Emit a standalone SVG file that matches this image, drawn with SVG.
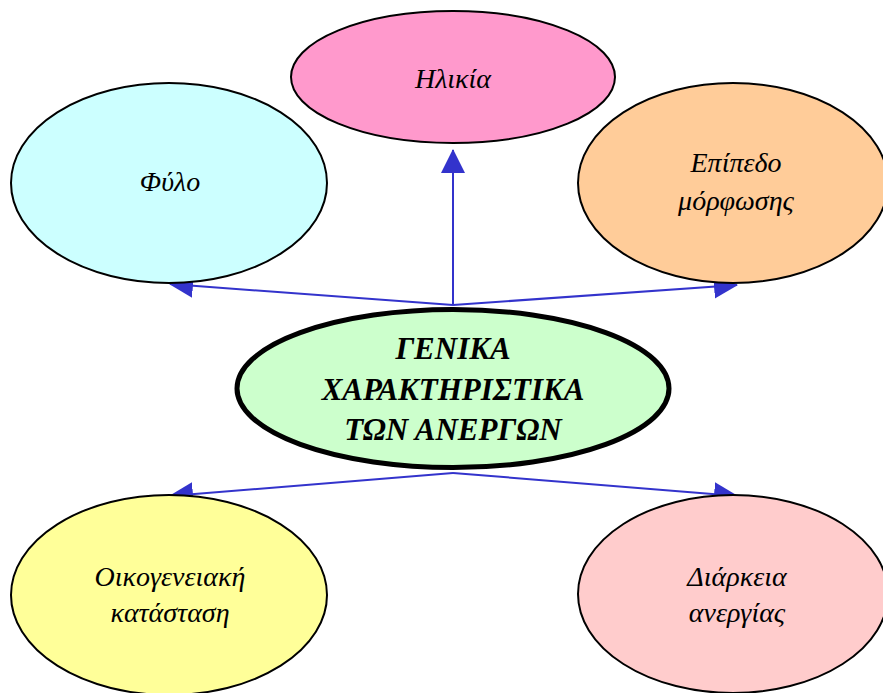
<svg xmlns="http://www.w3.org/2000/svg" width="883" height="693" viewBox="0 0 883 693">
<style>
.node{stroke:#000;stroke-width:2}
.lbl{font-family:"Liberation Serif","DejaVu Serif",serif;font-style:italic;font-size:28px;fill:#000;text-anchor:middle}
.big{font-family:"Liberation Serif","DejaVu Serif",serif;font-style:italic;font-weight:bold;font-size:31px;fill:#000;text-anchor:middle}
.conn{stroke:#3333CC;stroke-width:2;fill:none;marker-end:url(#ah)}
</style>
<defs>
<marker id="ah" markerUnits="userSpaceOnUse" markerWidth="24" markerHeight="24" viewBox="0 0 24 24" refX="23" refY="12" orient="auto">
<path d="M0,0 L24,12 L0,24 Z" fill="#3333CC"/>
</marker>
</defs>
<rect width="883" height="693" fill="#fff"/>
<g id="connectors">
<line class="conn" x1="453" y1="305" x2="453" y2="150"/>
<line class="conn" x1="453" y1="305" x2="170" y2="284"/>
<line class="conn" x1="453" y1="305" x2="737" y2="285"/>
<line class="conn" x1="453" y1="473" x2="170" y2="496"/>
<line class="conn" x1="453" y1="473" x2="737" y2="496"/>
</g>
<g id="node-ilikia">
<ellipse class="node" cx="453" cy="77" rx="162" ry="66" fill="#FF99CC"/>
<text class="lbl" x="453" y="88">Ηλικία</text>
</g>
<g id="node-fylo">
<ellipse class="node" cx="169" cy="183" rx="158" ry="100" fill="#CCFFFF"/>
<text class="lbl" x="170" y="191">Φύλο</text>
</g>
<g id="node-epipedo">
<ellipse class="node" cx="733" cy="183" rx="155" ry="100" fill="#FFCC99"/>
<text class="lbl" x="736" y="172">Επίπεδο</text>
<text class="lbl" x="736" y="210">μόρφωσης</text>
</g>
<g id="node-center">
<ellipse cx="453" cy="388.5" rx="216" ry="79" fill="#CCFFCC" stroke="#000" stroke-width="5"/>
<text class="big" x="453" y="359">ΓΕΝΙΚΑ</text>
<text class="big" x="453" y="400">ΧΑΡΑΚΤΗΡΙΣΤΙΚΑ</text>
<text class="big" x="453" y="440">ΤΩΝ ΑΝΕΡΓΩΝ</text>
</g>
<g id="node-oikogeneiaki">
<ellipse class="node" cx="169" cy="595" rx="158" ry="100" fill="#FFFF99"/>
<text class="lbl" x="170" y="586">Οικογενειακή</text>
<text class="lbl" x="170" y="622">κατάσταση</text>
</g>
<g id="node-diarkeia">
<ellipse class="node" cx="733" cy="594" rx="155" ry="99" fill="#FFCCCC"/>
<text class="lbl" x="737" y="586">Διάρκεια</text>
<text class="lbl" x="737" y="622">ανεργίας</text>
</g>
</svg>
